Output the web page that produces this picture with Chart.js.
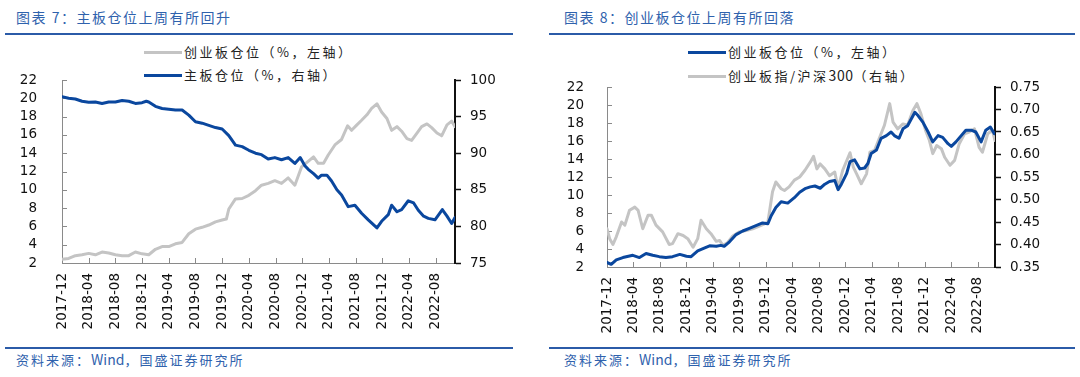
<!DOCTYPE html>
<html>
<head>
<meta charset="utf-8">
<script src="https://cdn.jsdelivr.net/npm/chart.js@4.4.1/dist/chart.umd.min.js"></script>
<style>
  html, body { margin: 0; padding: 0; background: #fff; }
  body { width: 1080px; height: 377px; position: relative; overflow: hidden; font-family: "Noto Sans CJK SC", sans-serif; }
  .title { position: absolute; top: 7px; font-size: 14px; letter-spacing: 1.5px; color: #2f62ad; white-space: nowrap; }
  .rule { position: absolute; height: 2px; background: #2b5ba8; }
  .src { position: absolute; top: 349px; font-size: 13px; letter-spacing: 2px; color: #2f62ad; white-space: nowrap; }
  .src .en { letter-spacing: 0; font-size: 14px; }
  .leg { position: absolute; font-size: 13px; letter-spacing: 2.5px; color: #222; white-space: nowrap; line-height: 16px; }
  .leg .sw { display: inline-block; width: 38px; height: 3px; vertical-align: middle; margin-right: 2px; position: relative; top: -1px; }
  .leg .en { letter-spacing: 0.5px; font-size: 14px; }
  canvas { position: absolute; }
</style>
</head>
<body>
<div class="title" style="left:16px;">图表 7：主板仓位上周有所回升</div>
<div class="rule" style="left:5px; width:508px; top:33px;"></div>
<div class="leg" style="left:144px; top:44px;"><span class="sw" style="background:#c4c4c4"></span>创业板仓位（%，左轴）</div>
<div class="leg" style="left:144px; top:67px;"><span class="sw" style="background:#0a479e"></span>主板仓位（%，右轴）</div>
<canvas id="c1" width="540" height="300" style="left:0; top:40px;"></canvas>
<div class="rule" style="left:5px; width:508px; top:347px;"></div>
<div class="src" style="left:16px;">资料来源：<span class="en">Wind</span>，国盛证券研究所</div>

<div class="title" style="left:564px;">图表 8：创业板仓位上周有所回落</div>
<div class="rule" style="left:549px; width:526px; top:33px;"></div>
<div class="leg" style="left:688px; top:44px;"><span class="sw" style="background:#0a479e"></span>创业板仓位（%，左轴）</div>
<div class="leg" style="left:688px; top:67px;"><span class="sw" style="background:#c4c4c4"></span>创业板指/沪深<span class="en">300</span>（右轴）</div>
<canvas id="c2" width="540" height="300" style="left:540px; top:40px;"></canvas>
<div class="rule" style="left:549px; width:526px; top:347px;"></div>
<div class="src" style="left:564px;">资料来源：<span class="en">Wind</span>，国盛证券研究所</div>

<script>
// ---------------- DATA ----------------
const xTickLabels = ['2017-12','2018-04','2018-08','2018-12','2019-04','2019-08','2019-12','2020-04','2020-08','2020-12','2021-04','2021-08','2021-12','2022-04','2022-08'];

// Chart 7: 主板仓位 (%, right axis)
const mainDates = ['2017-12-01','2018-01-01','2018-02-01','2018-03-01','2018-04-01','2018-05-01','2018-06-01','2018-07-01','2018-08-01','2018-09-01','2018-10-01','2018-11-01','2018-12-01','2018-12-20','2019-01-01','2019-02-01','2019-03-01','2019-04-01','2019-05-01','2019-06-01','2019-07-01','2019-08-01','2019-09-01','2019-10-01','2019-11-01','2019-12-01','2020-01-01','2020-02-01','2020-03-01','2020-04-01','2020-05-01','2020-05-28','2020-06-28','2020-07-28','2020-08-28','2020-09-28','2020-10-28','2020-11-22','2020-12-13','2020-12-28','2021-01-22','2021-02-13','2021-02-28','2021-03-22','2021-04-13','2021-05-07','2021-05-28','2021-06-28','2021-07-28','2021-08-28','2021-09-28','2021-11-07','2021-11-28','2021-12-28','2022-01-13','2022-02-07','2022-02-28','2022-03-28','2022-04-22','2022-05-13','2022-06-07','2022-06-28','2022-07-28','2022-09-01','2022-09-22','2022-10-13','2022-10-28'];
const mainBoard = [97.7,97.5,97.4,97.1,96.95,97.0,96.8,97.0,97.0,97.2,97.1,96.8,96.9,97.1,97.0,96.4,96.1,96.0,95.9,95.9,95.2,94.3,94.1,93.8,93.5,93.3,92.4,91.1,90.9,90.4,90.0,89.8,89.2,89.4,89.1,89.4,88.6,89.4,88.3,87.8,87.2,86.6,87.0,87.0,86.2,85.0,84.3,82.7,82.9,81.8,80.9,79.8,80.7,81.6,82.9,82.0,82.3,83.5,83.2,82.2,81.4,81.1,80.9,82.3,81.4,80.4,81.2];

// Chart 7: 创业板仓位 (%, left axis)
const gemDates7 = ['2017-12-01','2018-01-01','2018-02-01','2018-03-01','2018-04-01','2018-05-01','2018-06-01','2018-07-01','2018-08-01','2018-09-01','2018-10-01','2018-11-01','2018-12-01','2019-01-01','2019-02-01','2019-03-01','2019-04-01','2019-05-01','2019-06-01','2019-07-01','2019-08-01','2019-09-01','2019-10-01','2019-11-01','2019-12-01','2019-12-20','2020-01-01','2020-02-01','2020-03-01','2020-04-01','2020-05-01','2020-05-28','2020-06-28','2020-07-28','2020-08-28','2020-09-28','2020-10-28','2020-11-28','2020-12-28','2021-01-22','2021-02-13','2021-03-07','2021-03-28','2021-04-28','2021-05-28','2021-06-25','2021-07-13','2021-08-07','2021-08-28','2021-09-22','2021-10-13','2021-11-07','2021-11-28','2021-12-22','2022-01-13','2022-02-07','2022-02-28','2022-03-22','2022-04-13','2022-05-07','2022-05-28','2022-06-22','2022-07-13','2022-08-07','2022-08-28','2022-09-22','2022-10-13','2022-10-28'];
const gemPosition7 = [2.4,2.5,2.8,2.9,3.05,2.9,3.2,3.1,2.9,2.8,2.8,3.2,3.0,2.9,3.5,3.8,3.8,4.1,4.25,5.2,5.7,5.9,6.15,6.5,6.7,6.8,7.9,9.0,9.05,9.4,9.9,10.5,10.7,11.0,10.7,11.3,10.5,12.5,13.1,13.6,12.9,12.9,13.8,14.9,15.5,17.0,16.5,17.1,17.6,18.2,18.9,19.4,18.5,17.8,16.5,16.9,16.4,15.6,15.4,16.2,16.9,17.2,16.8,16.2,15.9,17.1,17.5,16.9];

// Chart 8: 创业板仓位 (%, left axis)
const gemDates8 = ['2017-12-01','2017-12-20','2018-01-13','2018-02-13','2018-03-28','2018-04-28','2018-05-28','2018-06-28','2018-07-28','2018-08-28','2018-09-28','2018-11-01','2018-12-01','2018-12-22','2019-01-22','2019-02-16','2019-03-16','2019-04-16','2019-05-07','2019-05-22','2019-06-16','2019-07-16','2019-08-16','2019-09-16','2019-10-16','2019-11-16','2019-12-10','2019-12-25','2020-01-16','2020-02-10','2020-03-10','2020-04-10','2020-05-04','2020-05-28','2020-06-22','2020-07-13','2020-08-07','2020-08-28','2020-09-19','2020-10-13','2020-10-28','2020-11-13','2020-12-07','2020-12-22','2021-01-13','2021-02-07','2021-02-28','2021-03-13','2021-03-28','2021-04-22','2021-05-13','2021-06-07','2021-06-28','2021-07-13','2021-08-04','2021-08-22','2021-09-13','2021-10-16','2021-11-01','2021-11-22','2021-12-16','2022-01-07','2022-02-01','2022-02-22','2022-03-16','2022-04-01','2022-04-22','2022-05-16','2022-06-07','2022-07-01','2022-07-22','2022-08-16','2022-09-07','2022-09-28','2022-10-16'];
const gemPosition8 = [2.5,2.3,2.8,3.05,3.3,3.05,3.5,3.3,3.15,3.05,3.15,3.4,3.2,3.15,3.8,4.05,4.35,4.3,4.4,4.3,4.8,5.6,6.0,6.3,6.6,6.9,6.8,7.7,8.6,9.25,9.1,9.7,10.3,10.7,10.9,11.0,10.75,11.2,11.5,11.6,10.6,11.2,12.4,13.7,13.9,12.9,13.0,13.5,14.6,15.0,16.3,16.6,17.0,16.6,16.3,17.35,17.7,19.2,18.8,18.1,17.0,15.9,16.6,16.4,15.7,15.4,15.9,16.6,17.2,17.2,17.0,15.9,17.2,17.55,16.8];

// Chart 8: 创业板指/沪深300 (right axis)
const ratioDates = ['2017-12-01','2017-12-13','2017-12-28','2018-01-13','2018-02-07','2018-02-22','2018-03-13','2018-04-07','2018-04-22','2018-05-13','2018-06-07','2018-06-22','2018-07-13','2018-08-13','2018-09-13','2018-09-28','2018-10-22','2018-11-16','2018-12-07','2019-01-01','2019-01-22','2019-02-07','2019-03-01','2019-03-22','2019-04-16','2019-05-01','2019-05-16','2019-06-07','2019-07-01','2019-08-01','2019-09-01','2019-10-01','2019-11-01','2019-11-25','2019-12-10','2020-01-01','2020-01-16','2020-02-10','2020-02-25','2020-03-16','2020-04-10','2020-05-04','2020-05-28','2020-06-22','2020-07-07','2020-07-22','2020-08-07','2020-08-28','2020-09-19','2020-10-13','2020-10-28','2020-11-19','2020-12-22','2021-01-07','2021-01-22','2021-02-13','2021-03-07','2021-03-22','2021-04-13','2021-05-07','2021-05-28','2021-06-22','2021-07-07','2021-07-28','2021-08-22','2021-09-13','2021-10-07','2021-10-25','2021-11-13','2021-12-04','2021-12-22','2022-01-07','2022-01-25','2022-02-16','2022-03-01','2022-03-25','2022-04-16','2022-05-07','2022-06-01','2022-06-22','2022-07-16','2022-08-07','2022-08-22','2022-09-16','2022-10-07','2022-10-19'];
const gemToHs300 = [0.435,0.413,0.400,0.417,0.450,0.443,0.476,0.483,0.476,0.435,0.465,0.465,0.443,0.428,0.400,0.402,0.424,0.420,0.413,0.394,0.413,0.454,0.435,0.424,0.407,0.409,0.398,0.404,0.419,0.428,0.431,0.435,0.441,0.446,0.450,0.517,0.539,0.524,0.520,0.528,0.543,0.550,0.565,0.583,0.596,0.568,0.579,0.568,0.553,0.561,0.525,0.565,0.604,0.572,0.557,0.535,0.557,0.605,0.609,0.639,0.665,0.713,0.672,0.657,0.668,0.665,0.698,0.713,0.691,0.654,0.631,0.602,0.620,0.613,0.594,0.576,0.587,0.624,0.646,0.650,0.657,0.616,0.605,0.646,0.654,0.631];

// ---------------- HELPERS ----------------
const BLUE = '#0a479e', GRAY = '#c4c4c4', AXIS_GRAY = '#8a8a8a';
const tickFont = { family: 'DejaVu Sans', size: 13.5 };
function monthIndex(s) {
  const [y, m, d] = s.split('-').map(Number);
  return (y - 2017) * 12 + (m - 12) + (d - 1) / 30;
}
function pts(dates, vals) { return dates.map((d, i) => ({ x: monthIndex(d), y: vals[i] })); }

const inwardTicks = {
  id: 'inwardTicks',
  beforeDatasetsDraw(chart) {
    const ctx = chart.ctx, area = chart.chartArea;
    ctx.save();
    ctx.strokeStyle = AXIS_GRAY; ctx.lineWidth = 1;
    const ys = chart.scales.y;
    ys.ticks.forEach(t => {
      const py = Math.round(ys.getPixelForValue(t.value)) + 0.5;
      ctx.beginPath(); ctx.moveTo(area.left, py); ctx.lineTo(area.left + 5, py); ctx.stroke();
    });
    const xs = chart.scales.x;
    xs.ticks.forEach(t => {
      const px = Math.round(xs.getPixelForValue(t.value)) + 0.5;
      ctx.beginPath(); ctx.moveTo(px, area.bottom); ctx.lineTo(px, area.bottom - 5); ctx.stroke();
    });
    ctx.restore();
  }
};

function makeChart(id, datasets, cfg) {
  const xMax = Math.max(...datasets.map(ds => Math.max(...ds.data.map(p => p.x))));
  return new Chart(document.getElementById(id), {
    type: 'line',
    data: { datasets },
    options: {
      responsive: false, animation: false, devicePixelRatio: 1,
      layout: { padding: cfg.padding },
      plugins: { legend: { display: false }, tooltip: { enabled: false }, title: { display: false } },
      elements: { point: { radius: 0 }, line: { borderWidth: 3, tension: 0, borderJoinStyle: 'round', borderCapStyle: 'round' } },
      scales: {
        x: {
          type: 'linear', min: 0, max: xMax,
          afterBuildTicks: s => { s.ticks = xTickLabels.map((l, i) => ({ value: i * 4 })); },
          ticks: { callback: v => xTickLabels[Math.round(v / 4)], minRotation: 90, maxRotation: 90, autoSkip: false, font: tickFont, color: '#111', padding: 2 },
          grid: { display: false },
          border: { display: true, color: AXIS_GRAY, width: 1 },
          afterFit: s => { s.height = 70; }
        },
        y: {
          position: 'left', min: cfg.yMin, max: cfg.yMax,
          ticks: { stepSize: cfg.yStep, autoSkip: false, font: tickFont, color: '#111', padding: cfg.yPad },
          grid: { display: false },
          border: { display: true, color: AXIS_GRAY, width: 1 },
          afterFit: s => { s.width = cfg.yWidth; }
        },
        y1: {
          position: 'right', min: cfg.y1Min, max: cfg.y1Max,
          ticks: { stepSize: cfg.y1Step, autoSkip: false, font: tickFont, color: '#111', padding: 9, callback: cfg.y1Fmt },
          grid: { display: true, drawOnChartArea: false, drawTicks: true, tickLength: 6, tickColor: '#111', tickWidth: 1.5 },
          border: { display: true, color: '#111', width: 2 },
          afterFit: s => { s.width = 60; }
        }
      }
    },
    plugins: [inwardTicks]
  });
}

makeChart('c1', [
  { label: '创业板仓位（%，左轴）', data: pts(gemDates7, gemPosition7), borderColor: GRAY, yAxisID: 'y', order: 2 },
  { label: '主板仓位（%，右轴）', data: pts(mainDates, mainBoard), borderColor: BLUE, yAxisID: 'y1', order: 1 }
], { padding: { top: 40, right: 25, bottom: 7, left: 0 }, yMin: 2, yMax: 22, yStep: 2, yPad: 17, yWidth: 62,
     y1Min: 75, y1Max: 100, y1Step: 5, y1Fmt: v => String(v) });

makeChart('c2', [
  { label: '创业板仓位（%，左轴）', data: pts(gemDates8, gemPosition8), borderColor: BLUE, yAxisID: 'y', order: 1 },
  { label: '创业板指/沪深300（右轴）', data: pts(ratioDates, gemToHs300), borderColor: GRAY, yAxisID: 'y1', order: 2 }
], { padding: { top: 47, right: 25, bottom: 3, left: 0 }, yMin: 2, yMax: 22, yStep: 2, yPad: 15, yWidth: 67,
     y1Min: 0.35, y1Max: 0.75, y1Step: 0.05, y1Fmt: v => v.toFixed(2) });
</script>
</body>
</html>
